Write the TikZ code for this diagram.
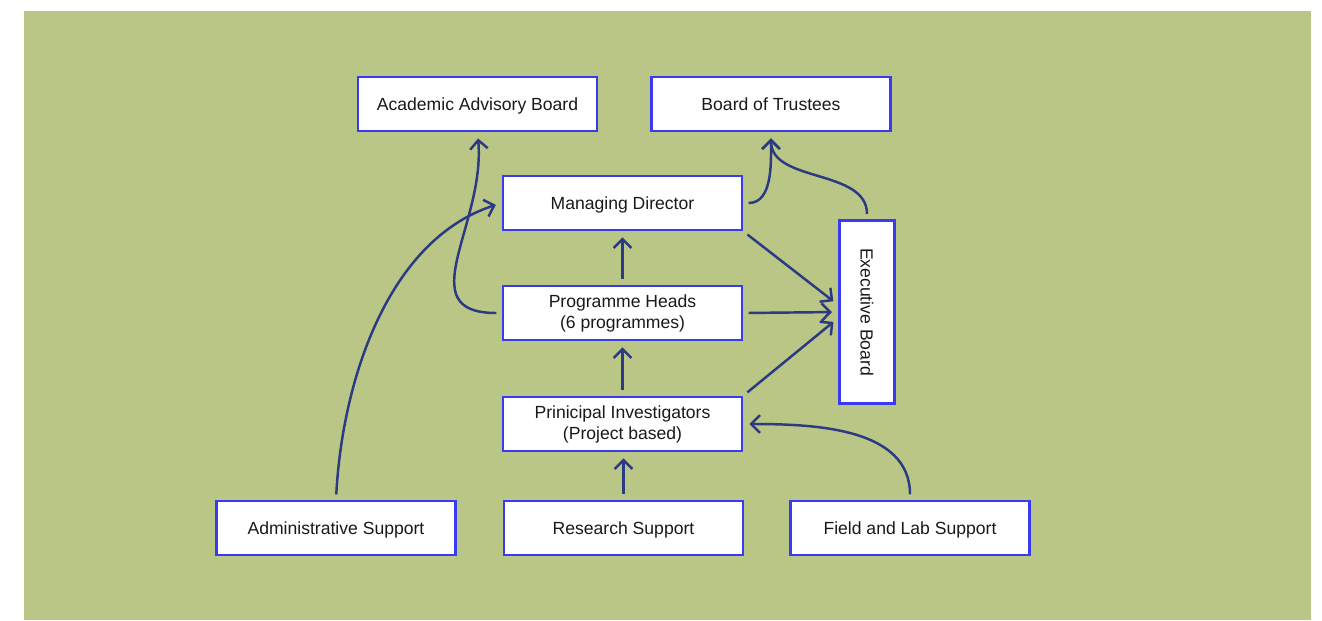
\documentclass[tikz,border=0pt]{standalone}
\usepackage{fontspec}
\setmainfont{Liberation Sans}
\usetikzlibrary{positioning}
\usetikzlibrary{arrows.meta}
\definecolor{leaf}{RGB}{185,198,134}
\definecolor{edge}{RGB}{58,58,240}
\definecolor{ink}{RGB}{43,58,130}
\tikzset{>={Straight Barb[length=5pt, width=10pt]}}
\tikzset{unit/.style = {draw=edge, line width=1.5pt, fill=white, text=black!90,
  minimum width=4.78cm, minimum height=1.08cm, align=center,
  font=\fontsize{10}{12}\selectfont}}
\tikzset{solo/.style = {unit, text height=7.2pt, text depth=0pt}}
\tikzset{link/.style = {->, ink, line width=1.4pt, shorten <=3pt, shorten >=3.5pt}}

\begin{document}
\begin{tikzpicture}
\useasboundingbox (0, 0) rectangle (26.44, -12.4);
\fill [leaf] (0.48, -0.22) rectangle (26.22, -12.4);

\node [solo] (aab) at (9.55, -2.08) {Academic Advisory Board};
\node [solo] (bot) at (15.42, -2.08) {Board of Trustees};
\node [solo] (md) at (12.45, -4.06) {Managing Director};
\node [unit] (ph) at (12.45, -6.26) {Programme Heads\\(6 programmes)};
\node [unit] (pi) at (12.45, -8.48) {Prinicipal Investigators\\(Project based)};
\node [solo] (adm) at (6.72, -10.56) {Administrative Support};
\node [solo] (rs) at (12.47, -10.56) {Research Support};
\node [solo] (fls) at (18.20, -10.56) {Field and Lab Support};
\node [unit, minimum width=1.1cm, minimum height=3.66cm] (eb) at (17.34, -6.24)
  {\rotatebox{-90}{Executive Board}};

% upward chain
\draw [link] (rs.north) to (rs.north |- pi.south);
\draw [link] (pi) to (ph);
\draw [link] (ph) to (md);

% curved links
\draw [link] (adm.north) to [out=87, in=198, looseness=0.9] (md.west);
\draw [link] (ph.west) to [out=180, in=-85, looseness=1.3] (aab.south);
\draw [link] (md.east) to [out=0, in=-90] (bot.south);
\draw [link] (eb.north) to [out=90, in=-90] (bot.south);
\draw [link] (fls.north) to [out=90, in=0] (pi.east);

% into the executive board
\draw [link] (md.south east) to ([yshift=0.14cm]eb.west);
\draw [link] (ph.east) to (eb.west);
\draw [link] (pi.north east) to ([yshift=-0.12cm]eb.west);
\end{tikzpicture}
\end{document}
